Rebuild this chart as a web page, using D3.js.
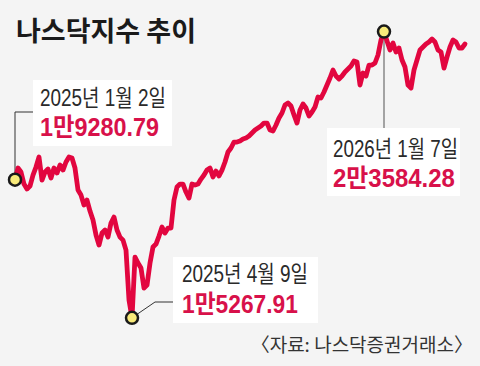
<!DOCTYPE html>
<html>
<head>
<meta charset="utf-8">
<script src="https://cdn.jsdelivr.net/npm/d3@7"></script>
<style>
  body { margin: 0; background: #f4f4f4; }
  svg { display: block; font-family: "Noto Sans CJK KR", "Noto Sans", sans-serif; }
  .date, .val { font-family: "Liberation Sans", "Noto Sans CJK KR", sans-serif; }
</style>
</head>
<body>
<svg id="chart" width="480" height="366"></svg>
<script>
// 나스닥 종가 (2025.1.2 ~ 2026.2), 그림에서 읽은 값
const closes = [
    19280.79, 19619, 19503, 19154, 19009, 19096, 19416, 19648, 19939, 19270,
    19503, 19590, 19329, 19619, 19474, 19706, 19561, 19794, 19939, 19910,
    19619, 18980, 18834, 18544, 18689, 18369, 18108, 17672, 17381, 17730,
    17817, 17613, 18020, 18195, 17817, 17613, 17526, 17235, 15782, 15267.91,
    17032, 16858, 16712, 16131, 16218, 16858, 17323, 17410, 17642, 17904,
    17730, 17875, 17875, 18689, 19067, 19154, 19154, 18922, 18747, 19154,
    19125, 19154, 19299, 19416, 19561, 19619, 19358, 19532, 19387, 19561,
    19794, 20084, 20201, 20375, 20375, 20404, 20462, 20491, 20549, 20637,
    20724, 20782, 20840, 20927, 20927, 20724, 20695, 20869, 21073, 21218,
    21451, 21509, 21422, 21160, 20927, 21305, 21480, 21363, 21131, 21247,
    21393, 21683, 21654, 21829, 22032, 22236, 22468, 22294, 22206, 22294,
    22410, 22497, 22584, 22730, 22701, 22032, 22381, 22294, 22613, 22613,
    22672, 22904, 23340, 23584.28, 23311, 23049, 23253, 22991, 23108, 22759,
    22555, 22032, 21945, 22468, 22759, 23049, 23137, 23224, 23282, 23369,
    23282, 23049, 22991, 22526, 22846, 23137, 23340, 23282, 23108, 23108,
    23224
]

const markIndex = [0, 39, 123]
const markDate = ["2025년 1월 2일", "2025년 4월 9일", "2026년 1월 7일"]
const markValue = ["1만9280.79", "1만5267.91", "2만3584.28"]

const svg = d3.select("#chart")

const x = d3.scaleLinear()
    .domain([0, closes.length - 1])
    .range([15, 465])

const y = d3.scaleLinear()
    .domain([15000, 24000])
    .range([327, 17.3])

svg.append("rect")
    .attr("width", 480)
    .attr("height", 366)
    .attr("fill", "#f4f4f4")

svg.append("text")
    .attr("x", 16)
    .attr("y", 41)
    .attr("font-size", 27)
    .attr("font-weight", 700)
    .attr("fill", "#1a1a1a")
    .text("나스닥지수 추이")

// 라벨 상자 위치, 글자 폭 (tw1 날짜, tw2 값)
const boxes = [
    { x: 33, y: 80, w: 139, h: 66, tx: 40, b1: 106, b2: 136, tw1: 126, tw2: 119 },
    { x: 173, y: 257, w: 145, h: 66, tx: 182, b1: 282, b2: 313, tw1: 126, tw2: 116 },
    { x: 327, y: 128, w: 133, h: 68, tx: 333, b1: 157, b2: 187, tw1: 125, tw2: 122 }
]

const pt = markIndex.map(i => [x(i), y(closes[i])])

// 지시선
svg.append("path")
    .attr("d", `M${pt[0][0]},${pt[0][1]}V112H${boxes[0].x}`)
    .attr("fill", "none")
    .attr("stroke", "#333")
    .attr("stroke-width", 1)

svg.append("path")
    .attr("d", `M${pt[1][0]},${pt[1][1]}L155,302H${boxes[1].x}`)
    .attr("fill", "none")
    .attr("stroke", "#333")
    .attr("stroke-width", 1)

svg.append("path")
    .attr("d", `M${pt[2][0]},${pt[2][1]}V${boxes[2].y}`)
    .attr("fill", "none")
    .attr("stroke", "#888")
    .attr("stroke-width", 1.5)

const line = d3.line()
    .x((d, i) => x(i))
    .y(d => y(d))

svg.append("path")
    .datum(closes)
    .attr("d", line)
    .attr("fill", "none")
    .attr("stroke", "#e2063f")
    .attr("stroke-width", 4.8)
    .attr("stroke-linejoin", "round")
    .attr("stroke-linecap", "round")

svg.selectAll(".box")
    .data(boxes)
    .join("rect")
    .attr("class", "box")
    .attr("x", d => d.x)
    .attr("y", d => d.y)
    .attr("width", d => d.w)
    .attr("height", d => d.h)
    .attr("fill", "#fff")

svg.selectAll(".dot")
    .data(markIndex)
    .join("circle")
    .attr("class", "dot")
    .attr("cx", d => x(d))
    .attr("cy", d => y(closes[d]))
    .attr("r", 6)
    .attr("fill", "#f8ea7a")
    .attr("stroke", "#1a1a1a")
    .attr("stroke-width", 2.5)

// 좁은 글꼴처럼 보이도록 가로로 눌러 맞춤
function squeeze(sel, key, base) {
    sel.each(function (d) {
        const w = this.getComputedTextLength()
        d3.select(this).attr("transform", `translate(${d.tx},${d[base]}) scale(${d[key] / w},1)`)
    })
}

svg.selectAll(".date")
    .data(boxes)
    .join("text")
    .attr("class", "date")
    .attr("font-size", 23)
    .attr("fill", "#2a2a2a")
    .text((d, i) => markDate[i])
    .call(squeeze, "tw1", "b1")

svg.selectAll(".val")
    .data(boxes)
    .join("text")
    .attr("class", "val")
    .attr("font-size", 25)
    .attr("font-weight", 700)
    .attr("fill", "#d8114a")
    .text((d, i) => markValue[i])
    .call(squeeze, "tw2", "b2")

svg.append("text")
    .attr("x", 473)
    .attr("y", 352)
    .attr("text-anchor", "end")
    .attr("font-size", 19)
    .attr("fill", "#333")
    .text("〈자료: 나스닥증권거래소〉")
</script>
</body>
</html>
